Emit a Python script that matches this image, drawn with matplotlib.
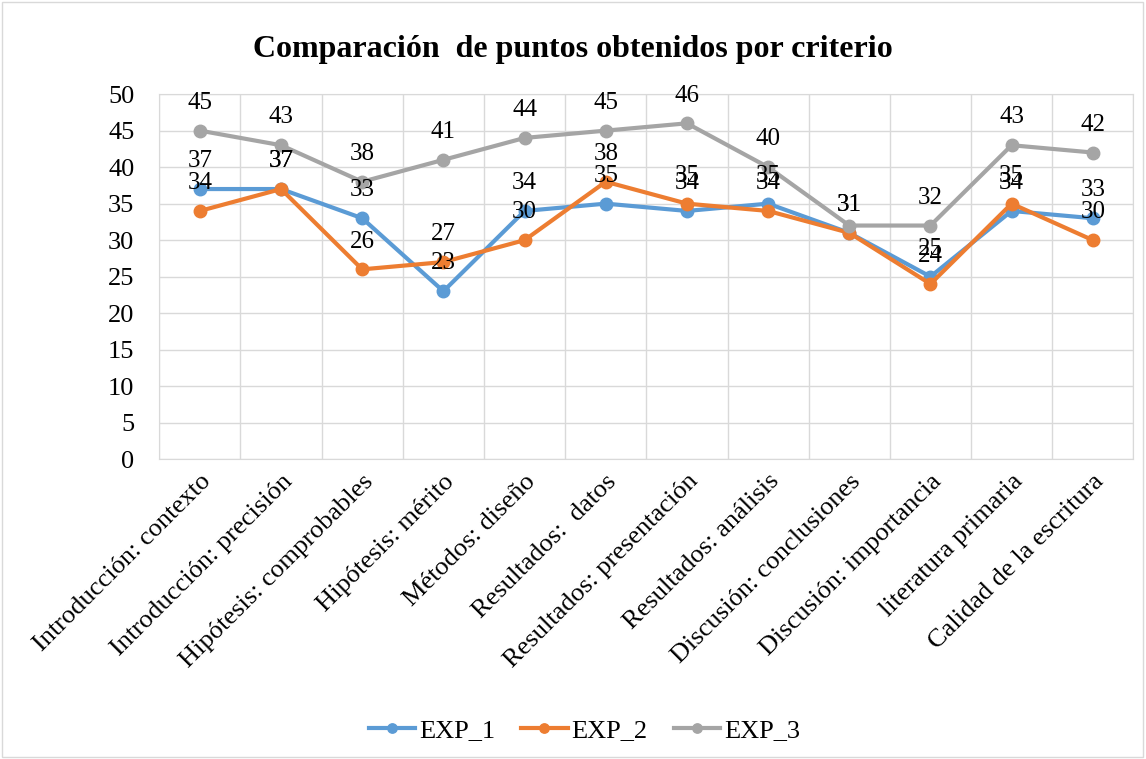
import numpy as np
import matplotlib
matplotlib.use('Agg')
from matplotlib import pyplot as plt
from matplotlib.patches import Rectangle

plt.rcParams['font.family'] = ['Liberation Serif', 'DejaVu Serif']

criterios = ['Introducción: contexto', 'Introducción: precisión', 'Hipótesis: comprobables',
             'Hipótesis: mérito', 'Métodos: diseño', 'Resultados:  datos',
             'Resultados: presentación', 'Resultados: análisis', 'Discusión: conclusiones',
             'Discusión: importancia', 'literatura primaria', 'Calidad de la escritura']
exp_1 = [37, 37, 33, 23, 34, 35, 34, 35, 31, 25, 34, 33]
exp_2 = [34, 37, 26, 27, 30, 38, 35, 34, 31, 24, 35, 30]
exp_3 = [45, 43, 38, 41, 44, 45, 46, 40, 32, 32, 43, 42]
series = [('EXP_1', exp_1, '#5B9BD5'), ('EXP_2', exp_2, '#ED7D31'), ('EXP_3', exp_3, '#A5A5A5')]
# label of EXP_3 at "Discusión: conclusiones" is not shown in the original
hidden = {('EXP_3', 8)}

fig = plt.figure(figsize=(11.46, 7.59), dpi=100)
ax = fig.add_axes([0.139, 0.395, 0.85, 0.481])
x = np.arange(len(criterios))

for name, vals, col in series:
    ax.plot(x, vals, color=col, lw=3, marker='o', ms=9, label=name, zorder=3)
for name, vals, col in series:
    for i, v in enumerate(vals):
        if (name, i) in hidden:
            continue
        ax.annotate(str(v), (i, v), xytext=(0, 20), textcoords='offset points',
                    ha='center', va='center', fontsize=18, color='#000000', zorder=4)

ax.set_xlim(-0.5, len(criterios) - 0.5)
ax.set_ylim(0, 50)
ax.set_yticks(range(0, 51, 5))
ax.set_xticks(x)
ax.set_xticklabels(criterios, rotation=45, ha='right', rotation_mode='anchor', fontsize=19)
ax.tick_params(axis='y', labelsize=19, length=0, pad=18)
ax.tick_params(axis='x', length=0, pad=8)
ax.set_xticks(np.arange(-0.5, len(criterios), 1), minor=True)
ax.tick_params(axis='x', which='minor', length=0)
ax.grid(True, axis='y', color='#d9d9d9', lw=1)
ax.grid(True, axis='x', which='minor', color='#d9d9d9', lw=1)
ax.grid(False, axis='x', which='major')
for s in ['top', 'right', 'bottom', 'left']:
    ax.spines[s].set_color('#d9d9d9')
ax.set_axisbelow(True)

fig.text(0.5, 0.935, 'Comparación  de puntos obtenidos por criterio', ha='center', va='center',
         fontsize=23, fontweight='bold')
fig.legend(loc='center', bbox_to_anchor=(0.51, 0.038), ncol=3, frameon=False, fontsize=19,
           handlelength=1.75, columnspacing=1.0, handletextpad=0.15, markerscale=0.75)
fig.patches.append(Rectangle((0.002, 0.003), 0.995, 0.994, transform=fig.transFigure,
                             fill=False, edgecolor='#d9d9d9', lw=1))

fig.savefig('out.png', dpi=100, facecolor='white')
